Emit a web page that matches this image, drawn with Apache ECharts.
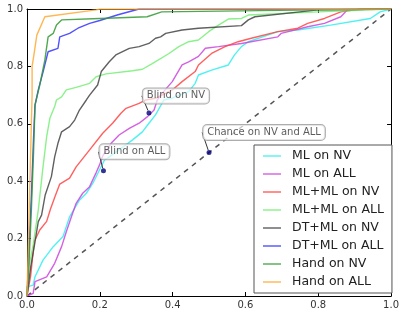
<!DOCTYPE html>
<html>
<head>
<meta charset="utf-8">
<script src="https://cdn.jsdelivr.net/npm/echarts@6/dist/echarts.min.js"></script>
<style>
html,body{margin:0;padding:0;background:#fff;}
#chart{width:402px;height:312px;}
</style>
</head>
<body>
<div id="chart"></div>
<script>
//刻度
var tickVals = [0, 0.2, 0.4, 0.6, 0.8, 1.0];
var names = ["ML on NV", "ML on ALL", "ML+ML on NV", "ML+ML on ALL", "DT+ML on NV", "DT+ML on ALL", "Hand on NV", "Hand on ALL"];
var colors = ["#33eeee", "#cc44dd", "#ff4444", "#77ee77", "#444444", "#3333ff", "#339933", "#ffaa33"];

//曲线数据 [fpr, tpr]
var mlNv = [[0,0],[0,0.032],[0.017,0.038],[0.022,0.067],[0.044,0.125],[0.072,0.172],[0.099,0.207],[0.117,0.276],[0.144,0.334],[0.163,0.358],[0.181,0.393],[0.199,0.439],[0.213,0.474],[0.226,0.485],[0.253,0.509],[0.29,0.544],[0.317,0.572],[0.335,0.602],[0.353,0.631],[0.376,0.683],[0.40,0.69],[0.444,0.712],[0.462,0.741],[0.471,0.77],[0.507,0.787],[0.553,0.805],[0.57,0.84],[0.589,0.869],[0.608,0.886],[0.689,0.921],[0.744,0.927],[0.834,0.944],[0.943,0.967],[0.97,0.99],[1,1]];
var mlAll = [[0,0],[0.017,0.009],[0.022,0.05],[0.054,0.067],[0.076,0.114],[0.095,0.172],[0.108,0.224],[0.122,0.276],[0.135,0.323],[0.153,0.358],[0.172,0.381],[0.19,0.43],[0.199,0.456],[0.208,0.488],[0.231,0.532],[0.253,0.561],[0.281,0.584],[0.308,0.602],[0.331,0.625],[0.349,0.648],[0.358,0.683],[0.371,0.706],[0.399,0.747],[0.426,0.805],[0.444,0.816],[0.471,0.835],[0.49,0.863],[0.526,0.869],[0.589,0.88],[0.689,0.903],[0.698,0.915],[0.771,0.938],[0.817,0.95],[0.862,0.973],[0.88,0.997],[1,1]];
var mlmlNv = [[0,0],[0.01,0.07],[0.02,0.19],[0.035,0.23],[0.054,0.26],[0.065,0.305],[0.078,0.35],[0.09,0.39],[0.117,0.411],[0.135,0.45],[0.172,0.509],[0.208,0.567],[0.235,0.602],[0.258,0.637],[0.272,0.654],[0.308,0.671],[0.326,0.683],[0.353,0.689],[0.399,0.718],[0.426,0.747],[0.462,0.782],[0.471,0.805],[0.507,0.845],[0.544,0.869],[0.58,0.886],[0.616,0.898],[0.689,0.921],[0.744,0.933],[0.771,0.95],[0.817,0.967],[0.862,0.99],[0.916,1.0],[1,1]];
var mlmlAll = [[0,0],[0.005,0.1],[0.017,0.178],[0.031,0.3],[0.035,0.346],[0.044,0.45],[0.054,0.555],[0.063,0.62],[0.076,0.66],[0.081,0.683],[0.095,0.694],[0.108,0.718],[0.135,0.727],[0.172,0.741],[0.19,0.764],[0.217,0.774],[0.29,0.785],[0.317,0.79],[0.344,0.81],[0.39,0.845],[0.417,0.869],[0.444,0.886],[0.471,0.892],[0.499,0.921],[0.526,0.944],[0.553,0.965],[0.589,0.967],[0.608,0.979],[0.8,0.99],[1,1]];
var dtmlNv = [[0,0],[0.01,0.1],[0.022,0.189],[0.031,0.259],[0.04,0.282],[0.05,0.352],[0.067,0.416],[0.076,0.485],[0.085,0.532],[0.095,0.572],[0.117,0.59],[0.131,0.613],[0.144,0.648],[0.163,0.683],[0.172,0.7],[0.194,0.735],[0.204,0.782],[0.226,0.816],[0.244,0.84],[0.281,0.863],[0.308,0.869],[0.335,0.88],[0.353,0.898],[0.367,0.903],[0.381,0.915],[0.426,0.927],[0.471,0.933],[0.589,0.942],[0.608,0.962],[0.626,0.973],[0.8,0.997],[1,1]];
var dtmlAll = [[0,0],[0.005,0.15],[0.012,0.35],[0.018,0.55],[0.022,0.665],[0.031,0.718],[0.044,0.78],[0.058,0.851],[0.085,0.863],[0.09,0.903],[0.117,0.915],[0.14,0.933],[0.172,0.95],[0.2,0.96],[0.25,0.98],[0.308,1],[1,1]];
var handNv = [[0,0],[0.005,0.1],[0.012,0.3],[0.018,0.5],[0.022,0.665],[0.035,0.735],[0.049,0.822],[0.058,0.903],[0.072,0.915],[0.081,0.944],[0.095,0.962],[0.2,0.967],[0.33,0.973],[0.37,0.99],[0.8,0.997],[1,1]];
var handAll = [[0,0],[0.004,0.2],[0.008,0.4],[0.012,0.6],[0.014,0.7],[0.014,0.8],[0.019,0.84],[0.027,0.909],[0.049,0.973],[0.19,0.997],[0.2,1],[1,1]];
var chanceLine = [[0,0],[1,1]];

//标注点
var notePoints = [[0.335,0.638],[0.21,0.436],[0.5,0.5]];
var noteTexts = ["Blind on NV", "Blind on ALL", "Chance on NV and ALL"];
var noteShift = [[27,-17],[31,-19],[55,-20]];

var curves = [mlNv, mlAll, mlmlNv, mlmlAll, dtmlNv, dtmlAll, handNv, handAll];

var myChart = echarts.init(document.getElementById('chart'));
var font = "DejaVu Sans";

var series = [];
series.push({
	type: 'line',
	data: chanceLine,
	showSymbol: false,
	silent: true,
	lineStyle: {color: '#555', width: 1.5, type: [5, 5]},
	z: 1
});
for (var i = 0; i < curves.length; i++) {
	series.push({
		name: names[i],
		type: 'line',
		data: curves[i],
		showSymbol: false,
		lineStyle: {color: colors[i], width: 1.4, opacity: 0.85},
		itemStyle: {color: colors[i], opacity: 0.6},
		z: 2 + i
	});
}
var noteData = [];
for (var j = 0; j < notePoints.length; j++) {
	noteData.push({value: notePoints[j], name: noteTexts[j]});
}
series.push({
	type: 'scatter',
	data: noteData,
	symbolSize: 5,
	itemStyle: {color: '#00007a'},
	z: 20,
	label: {
		show: true,
		position: 'inside',
		formatter: '{b}',
		fontFamily: font,
		fontSize: 10,
		color: '#333',
		backgroundColor: 'rgba(255,255,255,0.85)',
		borderColor: '#999',
		borderWidth: 1,
		borderRadius: 4,
		padding: [3, 4, 2, 4]
	},
	labelLine: {show: true, lineStyle: {color: '#333', width: 1}},
	labelLayout: function(params) {
		var s = noteShift[params.dataIndex];
		return {dx: s[0], dy: s[1]};
	}
});

var axisBase = {
	type: 'value', min: 0, max: 1, interval: 0.2,
	axisLine: {show: true, onZero: false, lineStyle: {color: '#000', width: 1}},
	axisTick: {show: true, inside: true, length: 4, lineStyle: {color: '#000'}},
	splitLine: {show: false}
};
function mkAxis(pos, labels) {
	var a = JSON.parse(JSON.stringify(axisBase));
	a.position = pos;
	a.axisLabel = {
		show: labels,
		fontFamily: font,
		fontSize: 10,
		color: '#333',
		margin: 4,
		formatter: function(v) { return v.toFixed(1); }
	};
	return a;
}

var option = {
	animation: false,
	backgroundColor: '#fff',
	grid: {left: 27, right: 8, top: 9, bottom: 16},
	xAxis: [mkAxis('bottom', true), mkAxis('top', false)],
	yAxis: [mkAxis('left', true), mkAxis('right', false)],
	legend: {
		data: names,
		orient: 'vertical',
		left: 254,
		top: 145,
		icon: 'rect',
		itemWidth: 18,
		itemHeight: 2,
		itemGap: 4,
		padding: [4, 8, 4, 9],
		borderColor: '#555',
		borderWidth: 1,
		backgroundColor: '#fff',
		textStyle: {fontFamily: font, fontSize: 12.5, color: '#222', lineHeight: 14, padding: [0, 0, 0, 6]}
	},
	series: series
};
myChart.setOption(option);
</script>
</body>
</html>
